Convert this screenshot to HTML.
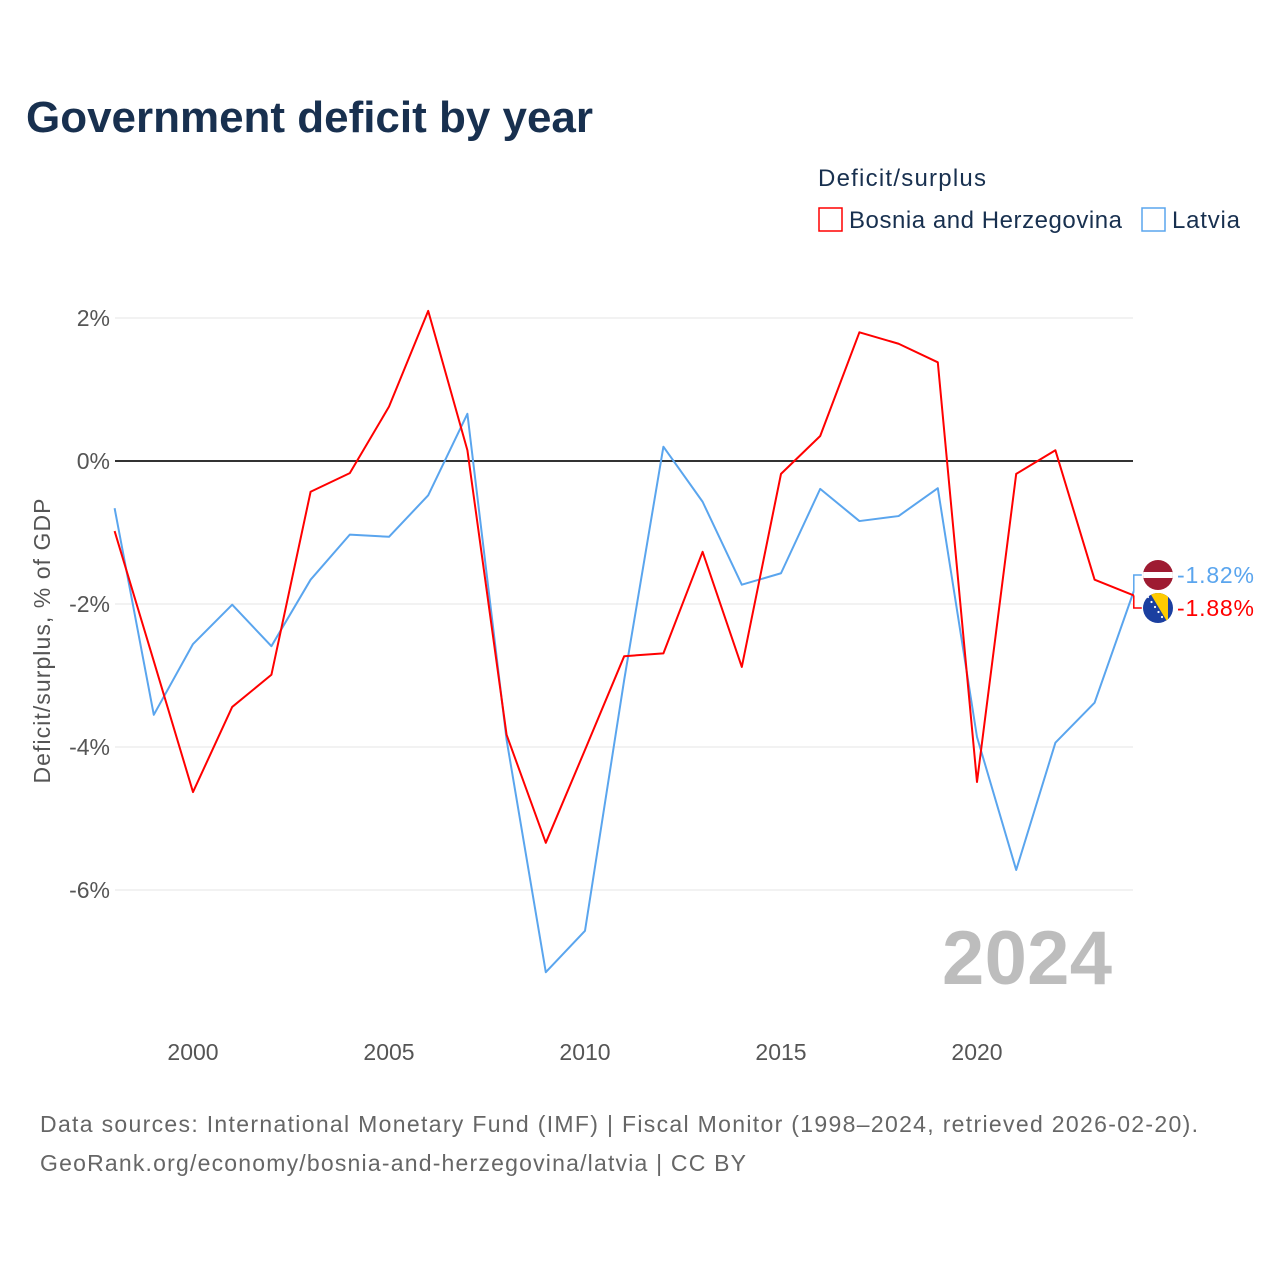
<!DOCTYPE html>
<html><head><meta charset="utf-8"><style>
body{margin:0;width:1280px;height:1280px;background:#fff;font-family:"Liberation Sans",sans-serif;overflow:hidden}
</style></head><body>
<svg id="c" width="1280" height="1280" xmlns="http://www.w3.org/2000/svg">
<text x="26" y="132" font-size="44" font-weight="bold" fill="#18304f" textLength="567">Government deficit by year</text>
<g>
<text x="818" y="186" font-size="24" fill="#18304f" textLength="168">Deficit/surplus</text>
<rect x="819" y="208" width="23" height="23" fill="#fff" stroke="#ff0000" stroke-width="1.5"/>
<text x="849" y="228" font-size="24" fill="#18304f" textLength="273">Bosnia and Herzegovina</text>
<rect x="1142" y="208" width="23" height="23" fill="#fff" stroke="#5aa5ee" stroke-width="1.5"/>
<text x="1172" y="228" font-size="24" fill="#18304f" textLength="68">Latvia</text>
</g>
<g id="grid"></g>
<text x="1112" y="984" text-anchor="end" font-size="76" font-weight="bold" fill="#bdbdbd" textLength="170">2024</text>
<text transform="translate(50,641) rotate(-90)" text-anchor="middle" font-size="23" fill="#555" textLength="285">Deficit/surplus, % of GDP</text>
<g id="lines"></g>
<text x="40" y="1132" font-size="23" fill="#666" textLength="1158">Data sources: International Monetary Fund (IMF) | Fiscal Monitor (1998–2024, retrieved 2026-02-20).</text>
<text x="40" y="1171" font-size="23" fill="#666" textLength="706">GeoRank.org/economy/bosnia-and-herzegovina/latvia | CC BY</text>
</svg>
<script>
const years=[1998,1999,2000,2001,2002,2003,2004,2005,2006,2007,2008,2009,2010,2011,2012,2013,2014,2015,2016,2017,2018,2019,2020,2021,2022,2023,2024];
const bosnia=[-0.98,-2.8,-4.63,-3.44,-2.99,-0.43,-0.17,0.76,2.1,0.15,-3.83,-5.34,-4.04,-2.73,-2.69,-1.27,-2.88,-0.18,0.35,1.8,1.64,1.38,-4.49,-0.18,0.15,-1.66,-1.88];
const latvia=[-0.66,-3.55,-2.56,-2.01,-2.59,-1.66,-1.03,-1.06,-0.48,0.66,-3.9,-7.15,-6.57,-3.06,0.2,-0.57,-1.73,-1.57,-0.39,-0.84,-0.77,-0.38,-3.86,-5.72,-3.94,-3.38,-1.82];
const yTicks=[2,0,-2,-4,-6];
const yTickLabels=["2%","0%","-2%","-4%","-6%"];
const xTicks=[2000,2005,2010,2015,2020];
const NS="http://www.w3.org/2000/svg";
const X=v=>193+(v-2000)*39.2;
const Y=v=>461-v*71.5;
function mk(t,a,p){const e=document.createElementNS(NS,t);for(const k in a)e.setAttribute(k,a[k]);p.appendChild(e);return e;}
const g=document.getElementById('grid');
yTicks.forEach((v,i)=>{
 const l=mk('line',{x1:115,x2:1133,y1:Y(v),y2:Y(v),stroke:v===0?'#333':'#e6e6e6','stroke-width':v===0?2:1},g);
 
 
 const t=mk('text',{x:110,y:Y(v)+8,'text-anchor':'end','font-size':23,fill:'#555'},g);
 t.textContent=yTickLabels[i];
 
 
});
xTicks.forEach(v=>{
 const t=mk('text',{x:X(v),y:1060,'text-anchor':'middle','font-size':23,fill:'#555'},g);
 t.textContent=v;
 
 
});
const L=document.getElementById('lines');
function line(d,c,n){
 const p=mk('polyline',{points:d.map((v,i)=>X(years[i])+','+Y(v)).join(' '),fill:'none',stroke:c,'stroke-width':2,'stroke-linejoin':'round'},L);
 
 
}
line(latvia,'#5aa5ee','line-latvia');
line(bosnia,'#ff0000','line-bosnia');
const lx=X(2024), ly=Y(latvia[26]), by=Y(bosnia[26]);
const fl=575, fb=608;
const c1=mk('polyline',{points:`${lx},${ly} ${lx},${fl} ${lx+8},${fl}`,fill:'none',stroke:'#5aa5ee','stroke-width':1.5},L);


const c2=mk('polyline',{points:`${lx},${by} ${lx},${fb} ${lx+8},${fb}`,fill:'none',stroke:'#ff0000','stroke-width':1.5},L);


const defs=mk('defs',{},L);
const cp1=mk('clipPath',{id:'cl1'},defs);mk('circle',{cx:1158,cy:fl,r:15},cp1);
const cp2=mk('clipPath',{id:'cl2'},defs);mk('circle',{cx:1158,cy:fb,r:15},cp2);
const f1=mk('g',{'clip-path':'url(#cl1)'},L);


mk('rect',{x:1143,y:fl-15,width:30,height:30,fill:'#9e1b32'},f1);
mk('rect',{x:1143,y:fl-3,width:30,height:6,fill:'#fff'},f1);
const f2=mk('g',{'clip-path':'url(#cl2)'},L);


mk('rect',{x:1143,y:fb-15,width:30,height:30,fill:'#1b3fa0'},f2);
mk('polygon',{points:`1150,${fb-15} 1168,${fb-15} 1168,${fb+15}`,fill:'#fecb00'},f2);
for(let i=0;i<6;i++)mk('circle',{cx:1148+i*3.5,cy:fb-11+i*5,r:1.1,fill:'#fff'},f2);
const t1=mk('text',{x:1177,y:fl+8,'font-size':23,fill:'#5aa5ee',textLength:77},L);
t1.textContent='-1.82%';


const t2=mk('text',{x:1177,y:fb+8,'font-size':23,fill:'#ff0000',textLength:77},L);
t2.textContent='-1.88%';


</script>
</body></html>
